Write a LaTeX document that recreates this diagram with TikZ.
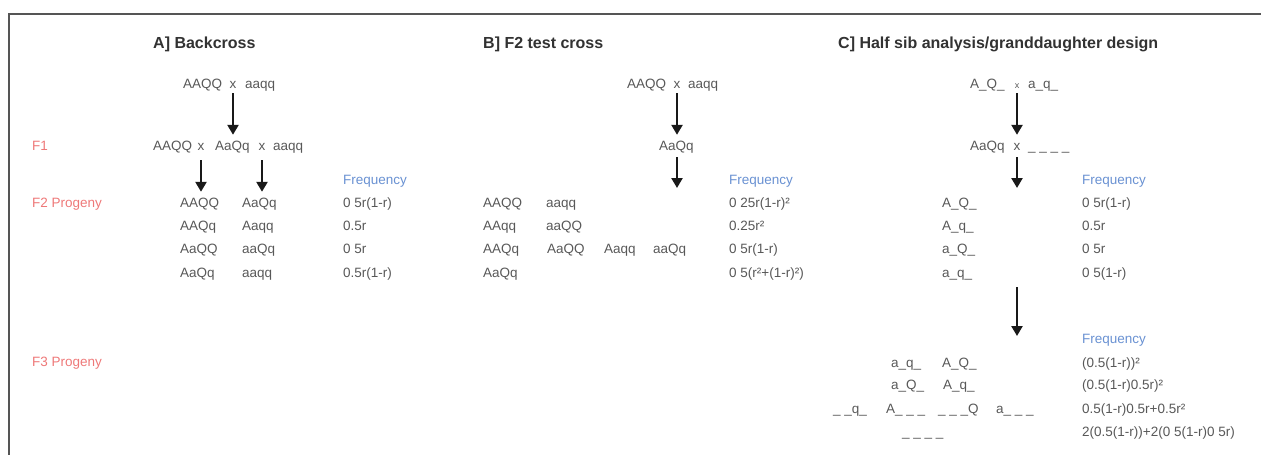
\documentclass[tikz,border=0pt]{standalone}
\usepackage{fontspec}
\setmainfont{Liberation Sans}
\usetikzlibrary{arrows.meta}
\definecolor{genec}{RGB}{88,88,88}
\definecolor{ttlc}{RGB}{50,50,50}
\definecolor{lblc}{RGB}{238,120,120}
\definecolor{freqc}{RGB}{105,145,210}
\definecolor{framec}{RGB}{85,85,85}
\definecolor{arrc}{RGB}{25,25,25}
\tikzset{
 g/.style={anchor=base west, inner sep=0pt, text height=9.8pt, text depth=3pt, font=\fontsize{13.5}{16}\selectfont, text=genec},
 gx/.style={g, anchor=base},
 ttl/.style={anchor=base west, inner sep=0pt, font=\fontsize{16}{19}\selectfont\bfseries, text=ttlc},
 lbl/.style={g, text=lblc},
 fq/.style={g, text=freqc},
 arr/.style={draw=arrc, line width=2.4pt, -{Triangle[length=10pt,width=11pt]}},
 framel/.style={draw=framec, line width=1.3pt},
}
\begin{document}
\begin{tikzpicture}[x=1pt,y=-1pt]
\useasboundingbox (0,0) rectangle (1261,455);
\draw[framel] (1261,14) -- (9,14) -- (9,455);

% row labels
\node[lbl] (lF1) at (32,150.8) {F1};
\node[lbl] (lF2) at (32,207.8) {F2 Progeny};
\node[lbl] (lF3) at (32,366.8) {F3 Progeny};

% ---------- A
\node[ttl] (tA) at (153,48.7) {A] Backcross};
\node[g] (pA1) at (183,88.8) {AAQQ};
\node[gx] (pAx) at (233,88.8) {x};
\node[g] (pA2) at (245,88.8) {aaqq};
\node[g] (fA1) at (153,150.8) {AAQQ};
\node[gx] (fAx1) at (201,150.8) {x};
\node[g] (fA2) at (215,150.8) {AaQq};
\node[gx] (fAx2) at (262,150.8) {x};
\node[g] (fA3) at (273,150.8) {aaqq};
\node[fq] (qA) at (343,184.8) {Frequency};
\node[g] (a11) at (180,207.8) {AAQQ};
\node[g] (a12) at (242,207.8) {AaQq};
\node[g] (a13) at (343,207.8) {0 5r(1-r)};
\node[g] (a21) at (180,230.8) {AAQq};
\node[g] (a22) at (242,230.8) {Aaqq};
\node[g] (a23) at (343,230.8) {0.5r};
\node[g] (a31) at (180,253.8) {AaQQ};
\node[g] (a32) at (242,253.8) {aaQq};
\node[g] (a33) at (343,253.8) {0 5r};
\node[g] (a41) at (180,277.8) {AaQq};
\node[g] (a42) at (242,277.8) {aaqq};
\node[g] (a43) at (343,277.8) {0.5r(1-r)};
\draw[arr] ([yshift=-1.2pt]pAx.south) -- ([yshift=6pt]pAx.south |- fA2.north);
\draw[arr] ([yshift=-6.2pt]fAx1.south) -- ([yshift=6pt]fAx1.south |- a11.north);
\draw[arr] ([yshift=-6.2pt]fAx2.south) -- ([yshift=6pt]fAx2.south |- a12.north);

% ---------- B
\node[ttl] (tB) at (483,48.7) {B] F2 test cross};
\node[g] (pB1) at (627,88.8) {AAQQ};
\node[gx] (pBx) at (677,88.8) {x};
\node[g] (pB2) at (688,88.8) {aaqq};
\node[g] (fB) at (659,150.8) {AaQq};
\coordinate (eB) at (677,188);
\node[fq] (qB) at (729,184.8) {Frequency};
\node[g] (b11) at (483,207.8) {AAQQ};
\node[g] (b12) at (546,207.8) {aaqq};
\node[g] (b13) at (729,207.8) {0 25r(1-r)²};
\node[g] (b21) at (483,230.8) {AAqq};
\node[g] (b22) at (546,230.8) {aaQQ};
\node[g] (b23) at (729,230.8) {0.25r²};
\node[g] (b31) at (483,253.8) {AAQq};
\node[g] (b32) at (547,253.8) {AaQQ};
\node[g] (b33) at (604,253.8) {Aaqq};
\node[g] (b34) at (653,253.8) {aaQq};
\node[g] (b35) at (729,253.8) {0 5r(1-r)};
\node[g] (b41) at (483,277.8) {AaQq};
\node[g] (b42) at (729,277.8) {0 5(r²+(1-r)²)};
\draw[arr] ([yshift=-1.2pt]pBx.south) -- ([yshift=6pt]pBx.south |- fB.north);
\draw[arr] ([yshift=-3.2pt]pBx.south |- fB.south) -- (eB);

% ---------- C
\node[ttl] (tC) at (838,48.7) {C] Half sib analysis/granddaughter design};
\node[g] (pC1) at (970,88.8) {A\_Q\_};
\node[gx, font=\fontsize{9}{11}\selectfont] (pCx) at (1017,88.8) {x};
\node[g] (pC2) at (1028,88.8) {a\_q\_};
\node[g] (fC1) at (970,150.8) {AaQq};
\node[gx] (fCx) at (1017,150.8) {x};
\node[g] (fC2) at (1028,150.8) {\_ \_ \_ \_};
\coordinate (eC) at (1017,188);
\node[fq] (qC) at (1082,184.8) {Frequency};
\node[g] (c11) at (942,207.8) {A\_Q\_};
\node[g] (c12) at (1082,207.8) {0 5r(1-r)};
\node[g] (c21) at (942,230.8) {A\_q\_};
\node[g] (c22) at (1082,230.8) {0.5r};
\node[g] (c31) at (942,253.8) {a\_Q\_};
\node[g] (c32) at (1082,253.8) {0 5r};
\node[g] (c41) at (942,277.8) {a\_q\_};
\node[g] (c42) at (1082,277.8) {0 5(1-r)};
\coordinate (sC3) at (1017,287);
\coordinate (eC3) at (1017,336);
\node[fq] (qC3) at (1082,343.8) {Frequency};
\node[g] (d11) at (891,367.8) {a\_q\_};
\node[g] (d12) at (942,367.8) {A\_Q\_};
\node[g] (d13) at (1082,367.8) {(0.5(1-r))²};
\node[g] (d21) at (891,389.8) {a\_Q\_};
\node[g] (d22) at (943,389.8) {A\_q\_};
\node[g] (d23) at (1082,389.8) {(0.5(1-r)0.5r)²};
\node[g] (d31) at (833,413.8) {\_ \_q\_};
\node[g] (d32) at (886,413.8) {A\_ \_ \_};
\node[g] (d33) at (938,413.8) {\_ \_ \_Q};
\node[g] (d34) at (996,413.8) {a\_ \_ \_};
\node[g] (d35) at (1082,413.8) {0.5(1-r)0.5r+0.5r²};
\node[g] (d41) at (902,436.8) {\_ \_ \_ \_};
\node[g] (d42) at (1082,436.8) {2(0.5(1-r))+2(0 5(1-r)0 5r)};
\draw[arr] ([yshift=-1.2pt]pCx.south) -- ([yshift=6pt]pCx.south |- fCx.north);
\draw[arr] ([yshift=-3.2pt]fCx.south) -- (eC);
\draw[arr] (sC3) -- (eC3);
\end{tikzpicture}
\end{document}
